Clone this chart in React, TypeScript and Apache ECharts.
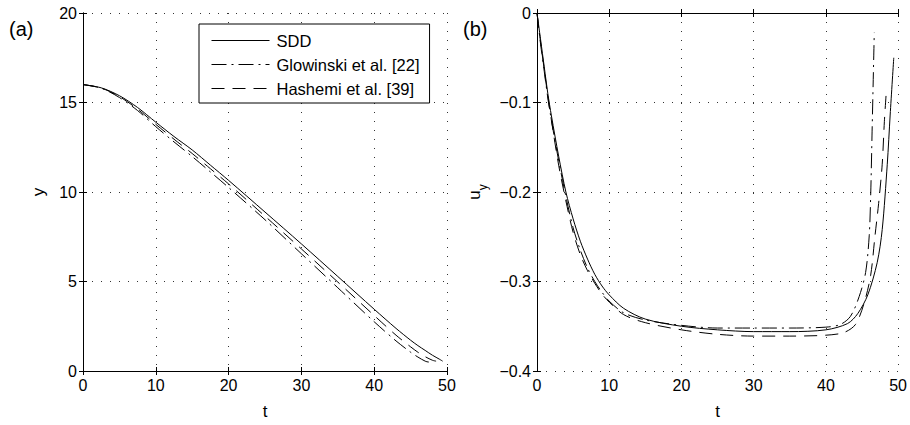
import React, { useEffect, useRef } from "react";
import * as echarts from "echarts";

// ---- Panel (a): y vs t ----
const tA_SDD = [0, 2.5, 5, 7.5, 10, 12.5, 15, 17.5, 20, 25, 30, 35, 40, 43, 45, 46, 47, 48, 49, 49.4];
const yA_SDD = [16, 15.82, 15.38, 14.72, 13.9, 13.1, 12.35, 11.5, 10.65, 8.88, 7.1, 5.28, 3.45, 2.38, 1.72, 1.42, 1.15, 0.88, 0.65, 0.55];

const tA_Glo = [0, 2.5, 5, 7.5, 10, 12.5, 15, 17.5, 20, 25, 30, 35, 40, 43, 45, 46, 47, 47.5, 48];
const yA_Glo = [16, 15.8, 15.28, 14.55, 13.65, 12.8, 11.98, 11.12, 10.25, 8.45, 6.55, 4.65, 2.75, 1.68, 1.05, 0.78, 0.55, 0.5, 0.5];

const tA_Has = [0, 2.5, 5, 7.5, 10, 12.5, 15, 17.5, 20, 25, 30, 35, 40, 43, 45, 46, 47, 48, 48.5];
const yA_Has = [16, 15.81, 15.33, 14.63, 13.78, 12.95, 12.15, 11.3, 10.45, 8.65, 6.82, 4.97, 3.1, 2.0, 1.35, 1.05, 0.8, 0.6, 0.55];

// ---- Panel (b): u_y vs t ----
const tB_SDD = [0, 0.5, 1, 1.5, 2, 3, 4, 5, 6, 7, 8, 9, 10, 12, 15, 20, 25, 30, 35, 40, 43, 44.4, 45.8, 47.1, 47.8, 48.5, 48.9, 49.4];
const uB_SDD = [0, -0.03, -0.06, -0.09, -0.115, -0.16, -0.2, -0.23, -0.255, -0.275, -0.292, -0.305, -0.315, -0.33, -0.342, -0.35, -0.354, -0.356, -0.356, -0.354, -0.347, -0.336, -0.315, -0.279, -0.242, -0.169, -0.114, -0.05];

const tB_Glo = [0, 0.5, 1, 1.5, 2, 3, 4, 5, 6, 7, 8, 9, 10, 12, 15, 20, 25, 30, 35, 40, 42, 43.4, 44.6, 45.5, 46, 46.2, 46.4, 46.7];
const uB_Glo = [0, -0.035, -0.065, -0.095, -0.12, -0.165, -0.205, -0.24, -0.265, -0.285, -0.3, -0.312, -0.322, -0.335, -0.343, -0.349, -0.352, -0.352, -0.352, -0.351, -0.348, -0.339, -0.317, -0.29, -0.249, -0.205, -0.132, -0.022];

const tB_Has = [0, 0.5, 1, 1.5, 2, 3, 4, 5, 6, 7, 8, 9, 10, 12, 15, 20, 25, 30, 35, 40, 42.5, 44.1, 45.3, 46.2, 46.8, 47.3, 47.8, 48.1, 48.4];
const uB_Has = [0, -0.033, -0.063, -0.093, -0.12, -0.17, -0.21, -0.245, -0.27, -0.288, -0.302, -0.314, -0.323, -0.337, -0.346, -0.354, -0.359, -0.361, -0.361, -0.36, -0.357, -0.348, -0.324, -0.293, -0.249, -0.213, -0.169, -0.121, -0.084];

const seriesNames = ["SDD", "Glowinski et al. [22]", "Hashemi et al. [39]"];
const xTicks = { min: 0, max: 50, interval: 10 };
const yTicksA = { min: 0, max: 20, interval: 5 };
const yTicksB = { min: -0.4, max: 0, interval: 0.1 };

const FONT = "Liberation Sans, Arial, Helvetica, sans-serif";
const zip = (a: number[], b: number[]) => a.map((v, i) => [v, b[i]]);
const fmt = (v: number) => {
  const r = Math.round(v * 10) / 10;
  if (r === 0) return "0";
  return String(r).replace("-", "\u2212");
};

const lineTypes: any[] = ["solid", [15, 5, 2, 5], [13, 8]];

export default function App() {
  const ref = useRef<HTMLDivElement>(null);
  useEffect(() => {
    if (!ref.current) return;
    const chart = echarts.init(ref.current, null, { renderer: "svg" });
    const grids = [
      { left: 83, top: 13, width: 364, height: 363 },
      { left: 537, top: 13, width: 364, height: 363 },
    ];
    const axisLine = { show: true, lineStyle: { color: "#000", width: 1 } };
    const tick = { show: true, inside: true, length: 4, lineStyle: { color: "#000" } };
    const split = { show: true, lineStyle: { color: "#333", width: 1, type: [1, 8] as any } };
    const label = { color: "#000", fontFamily: FONT, fontSize: 16 };

    const xAxes: any[] = [];
    const yAxes: any[] = [];
    [0, 1].forEach((g) => {
      xAxes.push({
        type: "value", gridIndex: g, position: "bottom", ...xTicks,
        axisLine, axisTick: tick, splitLine: split,
        axisLabel: { ...label, margin: 6, formatter: fmt },
        name: "t", nameLocation: "middle", nameGap: 32,
        nameTextStyle: { color: "#000", fontFamily: FONT, fontSize: 17 },
      });
      xAxes.push({
        type: "value", gridIndex: g, position: "top", ...xTicks,
        axisLine, axisTick: tick, splitLine: { show: false }, axisLabel: { show: false },
      });
      const yt = g === 0 ? yTicksA : yTicksB;
      yAxes.push({
        type: "value", gridIndex: g, position: "left", ...yt,
        axisLine, axisTick: tick, splitLine: split,
        axisLabel: { ...label, margin: 6, formatter: fmt },
        name: g === 0 ? "y" : "{u|u}{s|y}", nameLocation: "middle",
        nameGap: g === 0 ? 36 : 54, nameRotate: 90,
        nameTextStyle: {
          color: "#000", fontFamily: FONT, fontSize: 17,
          rich: {
            u: { fontFamily: FONT, fontSize: 17, color: "#000", lineHeight: 22, verticalAlign: "bottom" },
            s: { fontFamily: FONT, fontSize: 12, color: "#000", lineHeight: 22, verticalAlign: "bottom", padding: [0, 0, -6, 0] },
          },
        },
      });
      yAxes.push({
        type: "value", gridIndex: g, position: "right", ...yt,
        axisLine, axisTick: tick, splitLine: { show: false }, axisLabel: { show: false },
      });
    });

    const dataA = [zip(tA_SDD, yA_SDD), zip(tA_Glo, yA_Glo), zip(tA_Has, yA_Has)];
    const dataB = [zip(tB_SDD, uB_SDD), zip(tB_Glo, uB_Glo), zip(tB_Has, uB_Has)];
    const series: any[] = [];
    seriesNames.forEach((n, i) => {
      [dataA[i], dataB[i]].forEach((d, g) => {
        series.push({
          type: "line", name: n, data: d, xAxisIndex: g * 2, yAxisIndex: g * 2,
          symbol: "none", showSymbol: false, smooth: 0.3,
          lineStyle: { color: "#000", width: 1, type: lineTypes[i] },
          itemStyle: { color: "#000" }, z: 3,
        });
      });
    });

    chart.setOption({
      animation: false,
      backgroundColor: "#fff",
      grid: grids,
      xAxis: xAxes,
      yAxis: yAxes,
      legend: {
        show: true, orient: "vertical", left: 199, top: 24,
        data: seriesNames, itemWidth: 58, itemHeight: 14, itemGap: 7,
        padding: [8, 10, 6, 12], borderColor: "#000", borderWidth: 1,
        backgroundColor: "#fff", selectedMode: false,
        itemStyle: { opacity: 0 },
        lineStyle: { width: 1 },
        textStyle: { color: "#000", fontFamily: FONT, fontSize: 16.5, padding: [0, 0, 0, 2] },
      },
      graphic: [
        { type: "text", left: 9, top: 19, style: { text: "(a)", fill: "#000", font: `20px ${FONT}` } },
        { type: "text", left: 463, top: 19, style: { text: "(b)", fill: "#000", font: `20px ${FONT}` } },
      ],
      series,
    });
    return () => chart.dispose();
  }, []);
  return (
    <div
      ref={ref}
      style={{ position: "fixed", left: 0, top: 0, width: 910, height: 425, background: "#fff" }}
    />
  );
}
